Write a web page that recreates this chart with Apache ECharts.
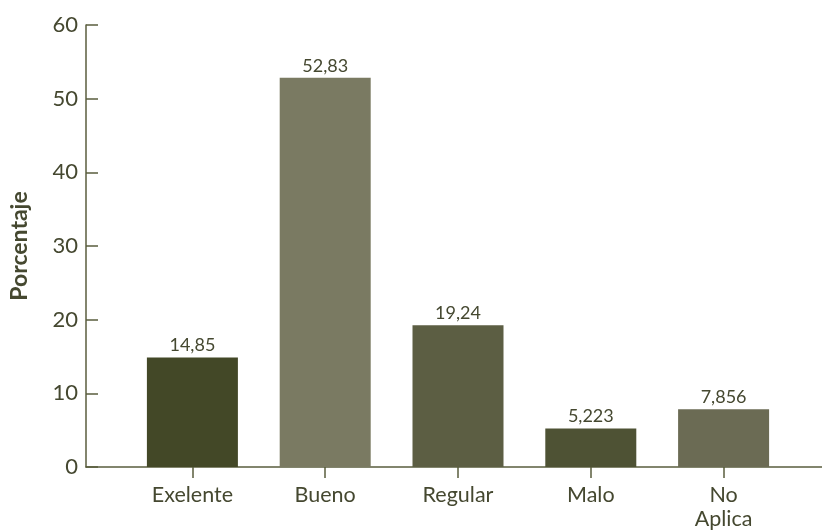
<!DOCTYPE html>
<html>
<head>
<meta charset="utf-8">
<script src="https://cdn.jsdelivr.net/npm/echarts@6/dist/echarts.min.js"></script>
<style>
html,body{margin:0;padding:0;background:#fff;}
#chart{width:822px;height:532px;}
</style>
</head>
<body>
<div id="chart"></div>
<script>
const categories = ['Exelente', 'Bueno', 'Regular', 'Malo', 'No\nAplica'];
const values = [14.85, 52.83, 19.24, 5.223, 7.856];
const barColors = ['#434827', '#7a7a62', '#5c5e43', '#4e5234', '#6b6b54'];
const yTicks = [0, 10, 20, 30, 40, 50, 60];

const textColor = '#454830';
const axisColor = '#5a5d3e';
const fontFam = 'Lato, "Open Sans", sans-serif';

const chart = echarts.init(document.getElementById('chart'));
const gTop = 25, gBottom = 65;
chart.setOption({
  animation: false,
  grid: [
    {left: 86, right: 0, top: gTop, bottom: gBottom},
    {left: 126, right: 32, top: gTop, bottom: gBottom}
  ],
  xAxis: [
    {gridIndex: 0, type: 'value', min: 0, max: 1,
     axisLine: {show: true, onZero: false, lineStyle: {color: axisColor, width: 1.5}},
     axisTick: {show: false}, axisLabel: {show: false}, splitLine: {show: false}},
    {gridIndex: 1, type: 'category', data: categories,
     axisLine: {show: false},
     axisTick: {show: true, alignWithLabel: true, length: 11, lineStyle: {color: axisColor, width: 1.5}},
     axisLabel: {color: textColor, fontSize: 21.5, fontFamily: fontFam, margin: 16, lineHeight: 24, interval: 0},
     splitLine: {show: false}}
  ],
  yAxis: [
    {gridIndex: 0, type: 'value', min: yTicks[0], max: yTicks[yTicks.length - 1], interval: 10,
     name: 'Porcentaje', nameLocation: 'middle', nameGap: 55, nameRotate: 90,
     nameTextStyle: {color: textColor, fontSize: 23, fontWeight: 'bold', fontFamily: fontFam},
     axisLine: {show: true, lineStyle: {color: axisColor, width: 1.5}},
     axisTick: {show: true, inside: true, length: 12, lineStyle: {color: axisColor, width: 1.5}},
     axisLabel: {color: textColor, fontSize: 22, fontFamily: fontFam, margin: 8},
     splitLine: {show: false}},
    {gridIndex: 1, type: 'value', min: yTicks[0], max: yTicks[yTicks.length - 1], interval: 10,
     show: false, splitLine: {show: false}}
  ],
  series: [{
    type: 'bar',
    xAxisIndex: 1, yAxisIndex: 1,
    barWidth: 91,
    data: values.map((v, i) => ({value: v, itemStyle: {color: barColors[i]}})),
    label: {show: true, position: 'top', distance: 3, color: textColor, fontSize: 18, fontFamily: fontFam,
      formatter: p => String(p.value).replace('.', ',')}
  }]
});
</script>
</body>
</html>
